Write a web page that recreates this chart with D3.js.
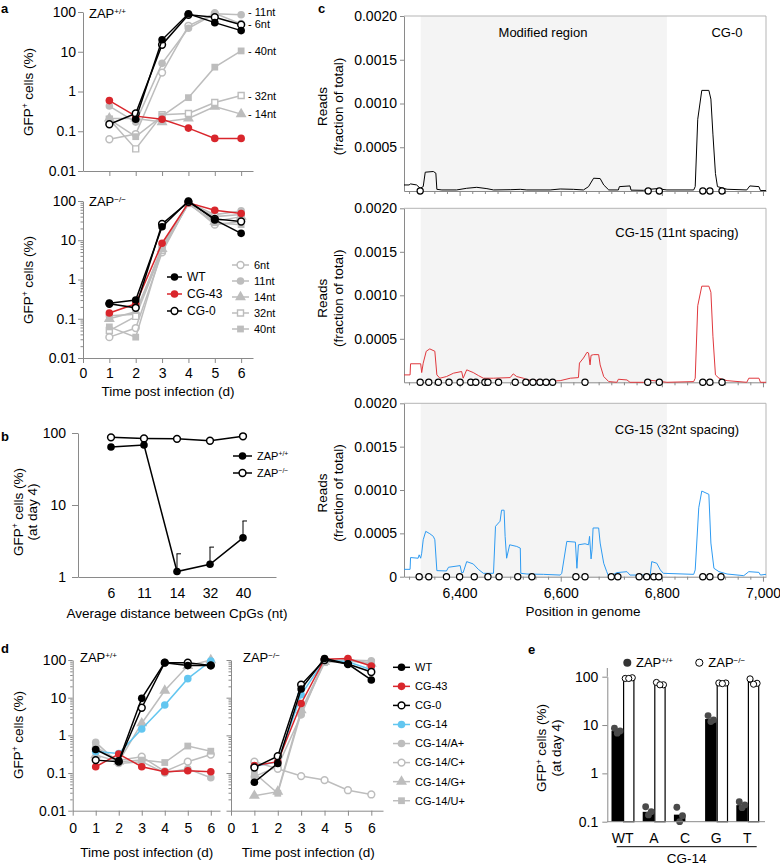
<!DOCTYPE html>
<html><head><meta charset="utf-8">
<script src="https://cdn.jsdelivr.net/npm/d3@7"></script>
<style>body{margin:0;background:#fff}svg{font-family:"Liberation Sans",Arial,Helvetica,sans-serif}</style>
</head><body><svg id="fig" width="780" height="865"></svg>
<script>
// ================= DATA =================
// Panel a (days post infection)
const days = [1,2,3,4,5,6];
const aTopWT   = [null,0.20,20,90,54,34];
const aTopCG43 = [0.59,0.24,0.20,0.12,0.066,0.066];
const aTopCG0  = [0.15,0.28,15,85,74,48];
const aTop6nt  = [0.063,0.085,3.0,45,93,50];
const aTop11nt = [0.43,0.17,5.1,39,90,85];
const aTop14nt = [0.21,0.21,0.17,0.21,0.42,0.27];
const aTop32nt = [0.2,0.036,0.26,0.28,0.53,0.79];
const aTop40nt = [0.2,0.073,0.24,0.70,4.1,10.5];
const aBotWT   = [0.25,0.30,22,100,33,15];
const aBotCG43 = [0.14,0.24,8.4,90,58,48];
const aBotCG0  = [0.24,0.19,26,95,35,30];
const aBot6nt  = [0.034,0.058,4.9,90,25,30];
const aBot11nt = [0.12,0.13,7,92,45,56];
const aBot14nt = [0.1,0.15,6,85,30,40];
const aBot32nt = [0.05,0.115,5.5,90,40,45];
const aBot40nt = [0.062,0.034,6,85,28,25];
const logTicks = [0.01,0.1,1,10,100];

// Panel b
const bCats   = ["6","11","14","32","40"];
const bZAPpos = [64,68,1.19,1.5,3.5];
const bErrTop = [null,null,2.1,2.6,6.0];
const bZAPneg = [87,84,83,78,90];

// Panel c (position in genome, fraction of reads)
const cTopTrace = [[6290,0.69e-4],[6300,0.69e-4],[6303,0.81e-4],[6315,0.69e-4],[6322,0.31e-4],[6328,0.5e-4],[6332,2.15e-4],[6348,2.23e-4],[6353,2.04e-4],[6355,0.19e-4],[6365,0.12e-4],[6394,0.12e-4],[6414,0.31e-4],[6434,0.42e-4],[6454,0.27e-4],[6467,0.12e-4],[6500,0.15e-4],[6520,0.19e-4],[6533,0.12e-4],[6579,0.12e-4],[6599,0.23e-4],[6625,0.19e-4],[6645,0.12e-4],[6655,0.5e-4],[6665,1.46e-4],[6678,1.42e-4],[6685,0.69e-4],[6695,0.12e-4],[6714,0.12e-4],[6716,0.5e-4],[6737,0.58e-4],[6739,0.1e-4],[6764,0.08e-4],[6777,0.2e-4],[6790,0.27e-4],[6810,0.12e-4],[6863,0.12e-4],[6866,0.5e-4],[6871,8.2e-4],[6879,11.5e-4],[6893,11.5e-4],[6897,10.5e-4],[6901,6.5e-4],[6906,2.0e-4],[6910,0.5e-4],[6929,0.2e-4],[6968,0.12e-4],[6974,0.58e-4],[6992,0.5e-4],[6995,0.05e-4],[7006,0.05e-4]];
const cMidTrace = [[6290,0.85e-4],[6302,0.85e-4],[6303,2.13e-4],[6323,2.13e-4],[6325,1.12e-4],[6328,2.2e-4],[6334,3.57e-4],[6341,3.84e-4],[6351,3.57e-4],[6355,0.85e-4],[6361,0.47e-4],[6374,0.66e-4],[6388,1.05e-4],[6404,1.24e-4],[6407,0.47e-4],[6414,1.43e-4],[6427,1.12e-4],[6437,0.78e-4],[6447,0.47e-4],[6467,0.47e-4],[6500,0.54e-4],[6506,0.97e-4],[6513,0.66e-4],[6526,0.47e-4],[6533,0.27e-4],[6566,0.19e-4],[6586,0.15e-4],[6599,0.19e-4],[6619,0.47e-4],[6635,0.54e-4],[6637,2.21e-4],[6645,2.79e-4],[6652,3.45e-4],[6655,3.37e-4],[6658,2.0e-4],[6660,3.1e-4],[6665,3.18e-4],[6675,3.18e-4],[6678,2.0e-4],[6685,0.66e-4],[6695,0.08e-4],[6711,0],[6714,0.35e-4],[6731,0.27e-4],[6737,0],[6764,0],[6770,0.27e-4],[6790,0.15e-4],[6810,0],[6863,0.08e-4],[6866,0.47e-4],[6871,8.8e-4],[6879,11.05e-4],[6893,11.05e-4],[6897,10.35e-4],[6901,5.3e-4],[6906,0.85e-4],[6913,0.47e-4],[6929,0.19e-4],[6968,0],[6972,0.47e-4],[6992,0.47e-4],[6995,0],[7006,0]];
const cBotTrace = [[6290,0.85e-4],[6302,0.85e-4],[6303,2.21e-4],[6318,2.13e-4],[6320,2.52e-4],[6323,2.13e-4],[6325,2.71e-4],[6328,4.26e-4],[6333,5.23e-4],[6341,4.96e-4],[6348,4.65e-4],[6351,4.26e-4],[6355,0.7e-4],[6374,0.66e-4],[6378,1.09e-4],[6401,1.28e-4],[6404,0.47e-4],[6407,0.47e-4],[6414,1.74e-4],[6427,1.47e-4],[6437,0.85e-4],[6447,0.39e-4],[6467,0.39e-4],[6471,5.81e-4],[6480,6.4e-4],[6483,7.67e-4],[6488,7.67e-4],[6490,4.65e-4],[6493,2.13e-4],[6499,3.68e-4],[6513,3.49e-4],[6520,3.3e-4],[6521,0.39e-4],[6533,0.31e-4],[6566,0.27e-4],[6599,0.19e-4],[6602,0.39e-4],[6612,4.07e-4],[6629,3.99e-4],[6632,0.97e-4],[6635,3.68e-4],[6648,3.8e-4],[6655,3.68e-4],[6657,4.65e-4],[6660,2.05e-4],[6662,3.1e-4],[6664,5.62e-4],[6675,5.62e-4],[6678,3.88e-4],[6685,1.55e-4],[6691,0.58e-4],[6695,0],[6711,0.47e-4],[6731,0.58e-4],[6737,0.19e-4],[6777,0.19e-4],[6780,1.74e-4],[6790,1.55e-4],[6797,0.78e-4],[6803,0.39e-4],[6863,0.27e-4],[6866,0.78e-4],[6873,7.95e-4],[6879,9.88e-4],[6893,9.5e-4],[6897,3.88e-4],[6903,0.97e-4],[6913,0.58e-4],[6929,0.31e-4],[6962,0.12e-4],[6972,0.58e-4],[6992,0.5e-4],[6995,0.19e-4],[7006,0.27e-4]];
const cTopCpG = [6322,6773,6795,6881,6895,6919];
const cMidCpG = [6322,6339,6358,6379,6401,6422,6432,6450,6456,6477,6510,6531,6545,6559,6571,6584,6648,6772,6795,6881,6895,6919];
const cBotCpG = [6320,6339,6374,6400,6429,6456,6478,6515,6543,6630,6648,6700,6713,6755,6770,6784,6794,6881,6895,6917];
const cModified = [6323,6810];
const cYTicks = [0.0005,0.0010,0.0015,0.0020];
const cXTicks = [6400,6600,6800,7000];

// Panel d
const dLWT   = [0.42,0.21,9.6,85,71,71];
const dLCG43 = [0.147,0.32,0.147,0.108,0.115,0.108];
const dLCG0  = [0.22,0.2,5.4,85,85,72];
const dLCG14 = [0.37,0.33,1.48,6.4,32,94];
const dLA    = [0.65,0.18,0.2,0.1,0.13,0.075];
const dLC    = [0.45,0.22,0.27,0.11,0.2,0.31];
const dLG    = [0.3,0.2,2.1,15.5,70,100];
const dLU    = [0.5,0.2,0.22,0.19,0.52,0.38];
const dRWT   = [0.057,0.18,17,110,78,29.5];
const dRCG43 = [0.157,0.2,7,105,110,69];
const dRCG0  = [0.14,0.28,22,100,78,48];
const dRCG14 = [0.15,0.2,12,100,90,55];
const dRA    = [0.08,0.15,3.5,95,100,95];
const dRC    = [0.2,0.13,0.083,0.065,0.035,0.027];
const dRG    = [0.025,0.032,4.7,90,95,80];
const dRU    = [0.1,0.029,4,85,100,85];

// Panel e
const eCats    = ["WT","A","C","G","T"];
const ePosMean = [7.6,0.16,0.14,13.3,0.22];
const eNegMean = [93,70,null,73,77];
const ePosReps = [[8.6,7.55,6.8],[0.204,0.161,0.138],[0.199,0.133,0.1],[15.7,12.8,11.8],[0.26,0.222,0.195]];
const eNegReps = [[92,95,92],[76,68,68],null,[74,74,72],[90,73,70]];

// ================= STYLE =================
const FONT='"Liberation Sans", Arial, Helvetica, sans-serif';
const AX='#8a8a8a', GRAY='#bdbdbd', RED='#d9262c', CYAN='#62c6f0', BLUE='#2e9bf2';
const svg=d3.select('#fig');
const TICKFS=14, TITLEFS=13.5, LEGFS=11;

function styleAxis(sel, fs){
  sel.attr('font-family',FONT).attr('font-size',fs);
  sel.select('.domain').attr('stroke',AX).attr('stroke-width',1);
  sel.selectAll('.tick line').attr('stroke',AX).attr('stroke-width',1);
  sel.selectAll('.tick text').attr('fill','#000');
  return sel;
}
function minorLogTicks(lo,hi){
  const out=[]; for(let d=lo; d<hi*0.999; d*=10){ for(let k=2;k<10;k++) out.push(+(d*k).toPrecision(3)); } return out;
}
function fmtLog(d){ return String(+d.toPrecision(3)); }
function rich(g, parts, attrs){
  const t=g.append('text').attr('font-family',FONT);
  Object.entries(attrs).forEach(([k,v])=>t.attr(k,v));
  let sup=false;
  parts.forEach(([s,isSup])=>{
    const ts=t.append('tspan').text(s);
    if(isSup){ ts.attr('font-size','0.62em').attr('dy', sup?null:'-0.55em'); sup=true; }
    else if(sup){ ts.attr('dy','0.341em'); sup=false; }
  });
  return t;
}
function vText(g, parts, x, y, fs){
  return rich(g, parts, {transform:`translate(${x},${y}) rotate(-90)`,'text-anchor':'middle','font-size':fs});
}
function marker(g, st, cx, cy){
  const fill = st.open ? '#fff' : st.color;
  if(st.shape==='circle'){
    g.append('circle').attr('cx',cx).attr('cy',cy).attr('r', st.open? (st.r||3.8)-0.4 : (st.r||3.8))
      .attr('fill',fill).attr('stroke',st.color).attr('stroke-width', st.open?1.5:0);
  } else {
    const sym = st.shape==='square'? d3.symbolSquare : d3.symbolTriangle;
    const size = st.shape==='square' ? (st.open? 36 : 46) : 52;
    g.append('path').attr('d', d3.symbol(sym, size)()).attr('transform',`translate(${cx},${cy})`)
      .attr('fill',fill).attr('stroke',st.color).attr('stroke-width', st.open?1.4:0);
  }
}
function series(g, x, y, xs, vals, st){
  const pts = xs.map((d,i)=>[d, vals[i]]).filter(p=>p[1]!=null);
  g.append('path').datum(pts).attr('d', d3.line().x(p=>x(p[0])).y(p=>y(p[1])))
    .attr('fill','none').attr('stroke',st.color).attr('stroke-width',1.5);
  pts.forEach(p=>marker(g, st, x(p[0]), y(p[1])));
}
function legendRow(g, st, x1, x2, y, label, fs){
  g.append('line').attr('x1',x1).attr('x2',x2).attr('y1',y).attr('y2',y).attr('stroke',st.color).attr('stroke-width',1.5);
  marker(g, st, (x1+x2)/2, y);
  rich(g, Array.isArray(label)?label:[[label,false]], {x:x2+5, y:y, dy:'0.35em','font-size':fs});
}
function panelLabel(t,x,y){ svg.append('text').attr('x',x).attr('y',y).attr('font-family',FONT).attr('font-weight','bold').attr('font-size',13).text(t); }

const ST = {
  WT:{color:'#000',shape:'circle'},
  CG43:{color:RED,shape:'circle'},
  CG0:{color:'#000',shape:'circle',open:true},
  n6:{color:GRAY,shape:'circle',open:true},
  n11:{color:GRAY,shape:'circle'},
  n14:{color:GRAY,shape:'triangle'},
  n32:{color:GRAY,shape:'square',open:true},
  n40:{color:GRAY,shape:'square'},
  CG14:{color:CYAN,shape:'circle'}
};

// ================= PANEL A =================
panelLabel('a',1,13);
const ga=svg.append('g');
const xA=d3.scaleLinear().domain([0,6.45]).range([83,253]);
const yAT=d3.scaleLog().domain([0.01,100]).range([171,12]);
const yAB=d3.scaleLog().domain([0.01,100]).range([358,201]);
styleAxis(ga.append('g').attr('transform','translate(83,0)').call(d3.axisLeft(yAT).tickValues(logTicks).tickFormat(fmtLog).tickSize(5).tickPadding(2).tickSizeOuter(0)),TICKFS);
styleAxis(ga.append('g').attr('transform','translate(0,171)').call(d3.axisBottom(xA).tickValues(days).tickFormat('').tickSize(5).tickSizeOuter(0)),TICKFS);
styleAxis(ga.append('g').attr('transform','translate(83,0)').call(d3.axisLeft(yAB).tickValues(logTicks).tickFormat(fmtLog).tickSize(5).tickPadding(2).tickSizeOuter(0)),TICKFS);
styleAxis(ga.append('g').attr('transform','translate(83,0)').call(d3.axisLeft(yAB).tickValues(minorLogTicks(0.01,100)).tickFormat('').tickSize(2.5).tickSizeOuter(0)),TICKFS).select('.domain').remove();
styleAxis(ga.append('g').attr('transform','translate(0,358)').call(d3.axisBottom(xA).tickValues([0].concat(days)).tickFormat(d3.format('d')).tickSize(5).tickPadding(5).tickSizeOuter(0)),TICKFS);

vText(ga,[['GFP',false],['+',true],[' cells (%)',false]],33,92,TITLEFS);
vText(ga,[['GFP',false],['+',true],[' cells (%)',false]],33,280,TITLEFS);
ga.append('text').attr('x',168).attr('y',396).attr('text-anchor','middle').attr('font-size',TITLEFS).text('Time post infection (d)');
rich(ga,[['ZAP',false],['+/+',true]],{x:89,y:18,'font-size':13});
rich(ga,[['ZAP',false],['\u2212/\u2212',true]],{x:89,y:206,'font-size':13});

const topSeries=[[aTop6nt,ST.n6],[aTop11nt,ST.n11],[aTop14nt,ST.n14],[aTop32nt,ST.n32],[aTop40nt,ST.n40],[aTopCG43,ST.CG43],[aTopCG0,ST.CG0],[aTopWT,ST.WT]];
topSeries.forEach(([v,s])=>series(ga,xA,yAT,days,v,s));
const botSeries=[[aBot6nt,ST.n6],[aBot11nt,ST.n11],[aBot14nt,ST.n14],[aBot32nt,ST.n32],[aBot40nt,ST.n40],[aBotCG43,ST.CG43],[aBotCG0,ST.CG0],[aBotWT,ST.WT]];
botSeries.forEach(([v,s])=>series(ga,xA,yAB,days,v,s));
const endLabels=[['11nt',aTop11nt,-3],['6nt',aTop6nt,0],['40nt',aTop40nt,0],['32nt',aTop32nt,1],['14nt',aTop14nt,0]];
endLabels.forEach(([t,v,dy])=>{
  ga.append('text').attr('x',248).attr('y',yAT(v[5])+dy).attr('dy','0.35em').attr('font-size',LEGFS).text('- '+t);
});
[['WT',ST.WT,277],['CG-43',ST.CG43,294],['CG-0',ST.CG0,311]].forEach(([t,s,y])=>legendRow(ga,s,167,182,y,t,LEGFS+1));
[['6nt',ST.n6,265],['11nt',ST.n11,281],['14nt',ST.n14,297],['32nt',ST.n32,313],['40nt',ST.n40,329]].forEach(([t,s,y])=>legendRow(ga,s,232,249,y,t,LEGFS));

// ================= PANEL B =================
panelLabel('b',1,441);
const gb=svg.append('g');
const xB=d3.scalePoint().domain(bCats).range([78,276]).padding(1);
const yB=d3.scaleLog().domain([1,100]).range([577,433]);
styleAxis(gb.append('g').attr('transform','translate(78,0)').call(d3.axisLeft(yB).tickValues([1,10,100]).tickFormat(fmtLog).tickSize(6).tickPadding(6).tickSizeOuter(0)),TICKFS);
styleAxis(gb.append('g').attr('transform','translate(0,577)').call(d3.axisBottom(xB).tickSize(0).tickPadding(11).tickSizeOuter(0)),TICKFS);
gb.append('text').attr('x',177).attr('y',618).attr('text-anchor','middle').attr('font-size',TITLEFS).text('Average distance between CpGs (nt)');
vText(gb,[['GFP',false],['+',true],[' cells (%)',false]],23,512,TITLEFS);
vText(gb,[['(at day 4)',false]],37,512,TITLEFS);
bCats.forEach((c,i)=>{ if(bErrTop[i]!=null){
  gb.append('line').attr('x1',xB(c)).attr('x2',xB(c)).attr('y1',yB(bZAPpos[i])).attr('y2',yB(bErrTop[i])).attr('stroke','#000').attr('stroke-width',1);
  gb.append('line').attr('x1',xB(c)-0.5).attr('x2',xB(c)+4).attr('y1',yB(bErrTop[i])).attr('y2',yB(bErrTop[i])).attr('stroke','#000').attr('stroke-width',1);
}});
series(gb,xB,yB,bCats,bZAPneg,ST.CG0);
series(gb,xB,yB,bCats,bZAPpos,ST.WT);
legendRow(gb,ST.WT,233,252,456,[['ZAP',false],['+/+',true]],LEGFS);
legendRow(gb,ST.CG0,233,252,473,[['ZAP',false],['\u2212/\u2212',true]],LEGFS);

// ================= PANEL C =================
panelLabel('c',318,13);
const gc=svg.append('g');
const xC=d3.scaleLinear().domain([6290,7006]).range([404,766]);
const cPanels=[
  {base:191,top:16,trace:cTopTrace,cpg:cTopCpG,color:'#000',label:'CG-0',lx:727,ly:32,zeroLabel:false,xLabels:false},
  {base:382.3,top:208.3,trace:cMidTrace,cpg:cMidCpG,color:'#e0383d',label:'CG-15 (11nt spacing)',lx:677,ly:232,zeroLabel:false,xLabels:false},
  {base:576.7,top:403.3,trace:cBotTrace,cpg:cBotCpG,color:BLUE,label:'CG-15 (32nt spacing)',lx:677,ly:429,zeroLabel:true,xLabels:true}
];
cPanels.forEach((p,i)=>{
  const y=d3.scaleLinear().domain([0,0.002]).range([p.base,p.top]);
  gc.append('rect').attr('x',xC(cModified[0])).attr('y',p.top).attr('width',xC(cModified[1])-xC(cModified[0])).attr('height',p.base-p.top).attr('fill','#f4f4f4');
  gc.append('line').attr('x1',404).attr('x2',766).attr('y1',p.top).attr('y2',p.top).attr('stroke','#b5b5b5');
  gc.append('line').attr('x1',766).attr('x2',766).attr('y1',p.top).attr('y2',p.base).attr('stroke','#b5b5b5');
  const yt = p.zeroLabel ? [0].concat(cYTicks) : cYTicks;
  styleAxis(gc.append('g').attr('transform','translate(404,0)').call(d3.axisLeft(y).tickValues(yt).tickFormat(d=>d===0?'0':d3.format('.4f')(d)).tickSize(4).tickPadding(3).tickSizeOuter(0)),TICKFS);
  styleAxis(gc.append('g').attr('transform',`translate(0,${p.base})`).call(d3.axisBottom(xC).tickValues(cXTicks).tickFormat(p.xLabels?d3.format(','):'').tickSize(5).tickPadding(6).tickSizeOuter(0)),TICKFS);
  styleAxis(gc.append('g').attr('transform',`translate(0,${p.base})`).call(d3.axisBottom(xC).tickValues(d3.range(6300,7001,25).filter(v=>!cXTicks.includes(v))).tickFormat('').tickSize(3).tickSizeOuter(0)),TICKFS).select('.domain').remove();
  gc.append('path').datum(p.trace).attr('d',d3.line().x(d=>xC(d[0])).y(d=>y(d[1]))).attr('fill','none').attr('stroke',p.color).attr('stroke-width',1);
  p.cpg.forEach(v=>gc.append('circle').attr('cx',xC(v)).attr('cy',p.base).attr('r',3.1).attr('fill','#fff').attr('stroke','#000').attr('stroke-width',1.2));
  gc.append('text').attr('x',p.lx).attr('y',p.ly).attr('dy','0.35em').attr('text-anchor','middle').attr('font-size',13).text(p.label);
  const cy=(p.base+p.top)/2+3;
  vText(gc,[['Reads',false]],326.5,cy,TITLEFS);
  vText(gc,[['(fraction of total)',false]],343,cy,TITLEFS);
});
gc.append('text').attr('x',543).attr('y',32).attr('dy','0.35em').attr('text-anchor','middle').attr('font-size',13).text('Modified region');
gc.append('text').attr('x',583).attr('y',615.5).attr('text-anchor','middle').attr('font-size',TITLEFS).text('Position in genome');

// ================= PANEL D =================
panelLabel('d',1,653);
const gd=svg.append('g');
const yD=d3.scaleLog().domain([0.01,100]).range([810.7,660]);
const xDL=d3.scaleLinear().domain([0,6.4]).range([72.7,220]);
const xDR=d3.scaleLinear().domain([0,6.5]).range([231,383]);
styleAxis(gd.append('g').attr('transform','translate(72.7,0)').call(d3.axisLeft(yD).tickValues(logTicks).tickFormat(fmtLog).tickSize(4.5).tickPadding(2).tickSizeOuter(0)),TICKFS);
styleAxis(gd.append('g').attr('transform','translate(72.7,0)').call(d3.axisLeft(yD).tickValues(minorLogTicks(0.01,100)).tickFormat('').tickSize(2.5).tickSizeOuter(0)),TICKFS).select('.domain').remove();
styleAxis(gd.append('g').attr('transform','translate(231,0)').call(d3.axisLeft(yD).tickValues(logTicks).tickFormat('').tickSize(4.5).tickSizeOuter(0)),TICKFS);
styleAxis(gd.append('g').attr('transform','translate(231,0)').call(d3.axisLeft(yD).tickValues(minorLogTicks(0.01,100)).tickFormat('').tickSize(2.5).tickSizeOuter(0)),TICKFS).select('.domain').remove();
styleAxis(gd.append('g').attr('transform','translate(0,810.7)').call(d3.axisBottom(xDL).tickValues([0].concat(days)).tickFormat(d3.format('d')).tickSize(5).tickPadding(7).tickSizeOuter(0)),TICKFS);
styleAxis(gd.append('g').attr('transform','translate(0,810.7)').call(d3.axisBottom(xDR).tickValues([0].concat(days)).tickFormat(d3.format('d')).tickSize(5).tickPadding(7).tickSizeOuter(0)),TICKFS);
gd.append('text').attr('x',146.7).attr('y',857).attr('text-anchor','middle').attr('font-size',TITLEFS).text('Time post infection (d)');
gd.append('text').attr('x',308.3).attr('y',857).attr('text-anchor','middle').attr('font-size',TITLEFS).text('Time post infection (d)');
vText(gd,[['GFP',false],['+',true],[' cells (%)',false]],23,735,TITLEFS);
rich(gd,[['ZAP',false],['+/+',true]],{x:80,y:662,'font-size':13});
rich(gd,[['ZAP',false],['\u2212/\u2212',true]],{x:243,y:662,'font-size':13});
const dSt={A:{color:GRAY,shape:'circle'},C:{color:GRAY,shape:'circle',open:true},G:{color:GRAY,shape:'triangle'},U:{color:GRAY,shape:'square'}};
[[dLA,dSt.A],[dLC,dSt.C],[dLG,dSt.G],[dLU,dSt.U],[dLCG14,ST.CG14],[dLCG43,ST.CG43],[dLCG0,ST.CG0],[dLWT,ST.WT]].forEach(([v,s])=>series(gd,xDL,yD,days,v,s));
[[dRA,dSt.A],[dRC,dSt.C],[dRG,dSt.G],[dRU,dSt.U],[dRCG14,ST.CG14],[dRCG43,ST.CG43],[dRCG0,ST.CG0],[dRWT,ST.WT]].forEach(([v,s])=>series(gd,xDR,yD,days,v,s));
const dLeg=[['WT',ST.WT],['CG-43',ST.CG43],['CG-0',ST.CG0],['CG-14',ST.CG14],['CG-14/A+',dSt.A],['CG-14/C+',dSt.C],['CG-14/G+',dSt.G],['CG-14/U+',dSt.U]];
dLeg.forEach(([t,s],i)=>legendRow(gd,s,393,410,667.3+i*19.06,t,LEGFS));

// ================= PANEL E =================
panelLabel('e',528,654);
const ge=svg.append('g');
const yE=d3.scaleLog().domain([0.1,100]).range([821.7,676.7]);
const x0=d3.scaleBand().domain(eCats).range([607,763]);
const x1=d3.scaleBand().domain(['pos','neg']).range([4.5,27.5]);
ge.append('line').attr('x1',607.3).attr('x2',607.3).attr('y1',676.7).attr('y2',668).attr('stroke',AX);
styleAxis(ge.append('g').attr('transform','translate(607.3,0)').call(d3.axisLeft(yE).tickValues([0.1,1,10,100]).tickFormat(fmtLog).tickSize(5).tickPadding(4).tickSizeOuter(0)),TICKFS);
eCats.forEach((c,i)=>{
  const xp=x0(c)+x1('pos'), xn=x0(c)+x1('neg'), bw=x1.bandwidth();
  ge.append('rect').attr('x',xp).attr('y',yE(ePosMean[i])).attr('width',bw).attr('height',yE(0.1)-yE(ePosMean[i])).attr('fill','#000');
  if(eNegMean[i]!=null) ge.append('rect').attr('x',xn+0.6).attr('y',yE(eNegMean[i])).attr('width',bw-1.2).attr('height',yE(0.1)-yE(eNegMean[i])).attr('fill','#fff').attr('stroke','#000').attr('stroke-width',1.2);
  const off=[-2.8,2.8,0];
  ePosReps[i].forEach((v,k)=>ge.append('circle').attr('cx',xp+bw/2+off[k]).attr('cy',yE(v)).attr('r',3.4).attr('fill','#4a4a4a'));
  if(eNegReps[i]) eNegReps[i].forEach((v,k)=>ge.append('circle').attr('cx',xn+bw/2+[-3.5,3.5,0][k]).attr('cy',yE(v)).attr('r',3.1).attr('fill','#fff').attr('stroke','#000').attr('stroke-width',1));
  ge.append('text').attr('x',x0(c)+x0.bandwidth()/2).attr('y',838).attr('dy','0.35em').attr('text-anchor','middle').attr('font-size',TICKFS).text(c);
});
ge.append('line').attr('x1',607.3).attr('x2',765).attr('y1',yE(0.1)).attr('y2',yE(0.1)).attr('stroke',AX);
ge.append('line').attr('x1',616.7).attr('x2',756.7).attr('y1',846.7).attr('y2',846.7).attr('stroke','#000').attr('stroke-width',1);
ge.append('text').attr('x',686.7).attr('y',858.5).attr('dy','0.35em').attr('text-anchor','middle').attr('font-size',TITLEFS).text('CG-14');
vText(ge,[['GFP',false],['+',true],[' cells (%)',false]],546.4,748,TITLEFS);
vText(ge,[['(at day 4)',false]],561.4,748,TITLEFS);
ge.append('circle').attr('cx',627.3).attr('cy',662.7).attr('r',4).attr('fill','#333');
rich(ge,[['ZAP',false],['+/+',true]],{x:636,y:662.7,dy:'0.35em','font-size':13});
ge.append('circle').attr('cx',699.3).attr('cy',662.7).attr('r',3.6).attr('fill','#fff').attr('stroke','#000').attr('stroke-width',1);
rich(ge,[['ZAP',false],['\u2212/\u2212',true]],{x:708.3,y:662.7,dy:'0.35em','font-size':13});
</script></body></html>
